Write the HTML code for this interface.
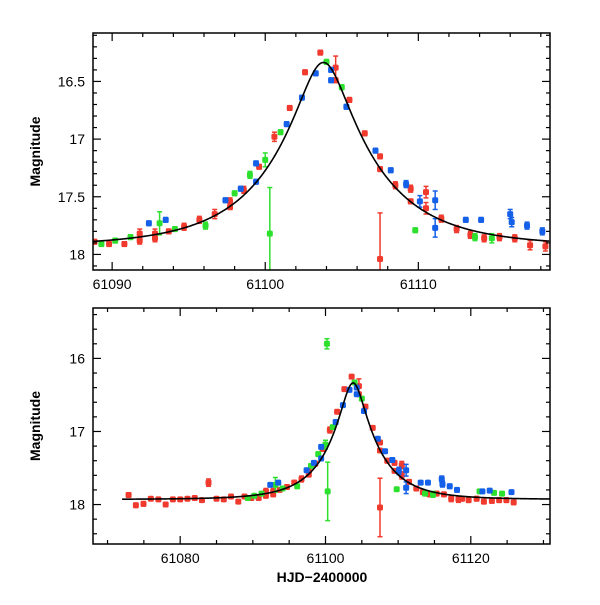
<!DOCTYPE html>
<html><head><meta charset="utf-8"><style>
html,body{margin:0;padding:0;background:#fff;}
svg text{font-family:"Liberation Sans",sans-serif;font-size:14px;fill:#000;}
</style></head><body>
<svg id="chart" width="600" height="600" viewBox="0 0 600 600" xmlns="http://www.w3.org/2000/svg"></svg>
<script>
// ---- data (HJD-2400000, magnitude, error) ----
const redDays=[61072.9,61073.9,61074.95,61075.96,61077,61078,61079,61080,61081,61082,61083,61083.9,61085,61086,61087,61088,61088.85,61089.8,61090.8,61091.8,61091.8,61092.8,61092.8,61093.7,61094.7,61095.7,61096.7,61097.7,61097.7,61098.6,61099.6,61100.6,61101.6,61102.6,61103.6,61104.6,61104.6,61105.5,61106.5,61107.5,61107.5,61107.5,61108.5,61109.5,61109.5,61110.5,61110.5,61111.5,61112.5,61113.4,61114.3,61115.3,61116.3,61117.3,61118.3,61118.8,61119.7,61120.8,61121.8,61122.9,61123.9,61124.9,61125.9];
const redMags=[17.87,18.01,17.99,17.92,17.93,18.0,17.93,17.93,17.92,17.91,17.94,17.70,17.92,17.93,17.89,17.96,17.89,17.91,17.91,17.82,17.88,17.82,17.86,17.80,17.76,17.70,17.65,17.54,17.59,17.44,17.24,16.98,16.73,16.42,16.25,16.38,16.49,16.66,16.95,17.15,17.26,18.04,17.40,17.54,17.43,17.46,17.60,17.69,17.78,17.83,17.86,17.85,17.86,17.92,17.93,17.92,17.94,17.92,17.96,17.95,17.94,17.94,17.97];
const redErrs=[0.03,0.03,0.03,0.02,0.02,0.02,0.02,0.02,0.02,0.02,0.02,0.05,0.02,0.02,0.02,0.02,0.02,0.02,0.02,0.04,0.03,0.04,0.03,0.02,0.03,0.03,0.04,0.03,0.02,0.03,0.02,0.04,0.02,0.02,0.02,0.10,0.02,0.02,0.02,0.02,0.02,0.40,0.03,0.02,0.03,0.05,0.05,0.03,0.03,0.03,0.03,0.03,0.03,0.04,0.04,0.03,0.03,0.03,0.03,0.03,0.03,0.03,0.03];
const blueDays=[61092.4,61093.5,61097.4,61098.4,61099.4,61099.4,61101.4,61102.4,61103.3,61104.3,61104.3,61105.3,61107.2,61108.2,61109.2,61110.1,61111.1,61111.1,61113.1,61114.1,61116.0,61116.1,61117.1,61118.1,61121.6,61122.6,61125.6];
const blueMags=[17.73,17.70,17.53,17.43,17.21,17.37,16.87,16.64,16.43,16.49,16.40,16.72,17.10,17.27,17.39,17.54,17.53,17.77,17.70,17.70,17.65,17.72,17.75,17.80,17.82,17.81,17.83];
const blueErrs=[0.02,0.02,0.02,0.02,0.02,0.02,0.02,0.02,0.02,0.02,0.02,0.02,0.02,0.02,0.03,0.05,0.08,0.08,0.02,0.02,0.04,0.04,0.03,0.03,0.02,0.02,0.02];
const greenDays=[61089.3,61090.2,61091.2,61093.1,61094.1,61096.1,61098.0,61099.0,61100.0,61100.2,61100.3,61101.0,61104.0,61105.0,61109.8,61113.7,61114.8,61121.2,61123.2,61124.3];
const greenMags=[17.91,17.88,17.85,17.73,17.78,17.75,17.47,17.31,17.18,15.80,17.82,16.94,16.33,16.55,17.79,17.85,17.86,17.82,17.84,17.85];
const greenErrs=[0.02,0.02,0.02,0.10,0.02,0.03,0.02,0.03,0.06,0.07,0.40,0.02,0.02,0.02,0.02,0.03,0.04,0.02,0.02,0.02];
// model parameters
const modelT0=61103.8, modelTE=6.6, modelU0=0.235, modelBase=17.93;

const svg=document.getElementById('chart');
const NS='http://www.w3.org/2000/svg';
function mk(tag,attrs,parent){const e=document.createElementNS(NS,tag);for(const k in attrs)e.setAttribute(k,attrs[k]);(parent||svg).appendChild(e);return e;}
function model(t){const x=(t-modelT0)/modelTE;const u=Math.sqrt(modelU0*modelU0+x*x);const A=(u*u+2)/(u*Math.sqrt(u*u+4));return modelBase-2.5*Math.log10(A);}

const panels=[
 {name:'top',x0:93,x1:550,y0:33,y1:270,d0:61088.75,d1:61118.6,m0:16.08,m1:18.135,
  xMajor:[61090,61100,61110],xMinorStep:2,yMajor:[16.5,17,17.5,18],yMinorStep:0.1,curve:[61088.75,61118.6]},
 {name:'bottom',x0:93,x1:550,y0:308,y1:544,d0:61068.0,d1:61130.9,m0:15.31,m1:18.54,
  xMajor:[61080,61100,61120],xMinorStep:5,yMajor:[16,17,18],yMinorStep:0.2,curve:[61072,61130.9]}
];
const series=[
 {key:'red',color:'#f03a2e',days:redDays,mags:redMags,errs:redErrs},
 {key:'green',color:'#2ee02e',days:greenDays,mags:greenMags,errs:greenErrs},
 {key:'blue',color:'#1560e8',days:blueDays,mags:blueMags,errs:blueErrs}
];

panels.forEach((p,pi)=>{
  const g=mk('g',{});
  
  
  const X=d=>p.x0+(d-p.d0)/(p.d1-p.d0)*(p.x1-p.x0);
  const Y=m=>p.y0+(m-p.m0)/(p.m1-p.m0)*(p.y1-p.y0);
  const cid='clip'+pi;
  const cp=mk('clipPath',{id:cid},g);mk('rect',{x:p.x0,y:p.y0,width:p.x1-p.x0,height:p.y1-p.y0},cp);
  const data=mk('g',{'clip-path':'url(#'+cid+')'},g);
  series.forEach(s=>{
    const sg=mk('g',{},data);
    
    
    s.days.forEach((d,i)=>{
      const cx=X(d),cy=Y(s.mags[i]),ea=Y(s.mags[i]-s.errs[i]),eb=Y(s.mags[i]+s.errs[i]);
      mk('line',{x1:cx,x2:cx,y1:ea,y2:eb,stroke:s.color,'stroke-width':1.5},sg);
      mk('line',{x1:cx-2.5,x2:cx+2.5,y1:ea,y2:ea,stroke:s.color,'stroke-width':1.5},sg);
      mk('line',{x1:cx-2.5,x2:cx+2.5,y1:eb,y2:eb,stroke:s.color,'stroke-width':1.5},sg);
      const c=mk('rect',{x:cx-3,y:cy-3,width:6,height:6,rx:1.5,fill:s.color},sg);
      
      
    });
  });
  let dstr='';
  for(let t=p.curve[0];t<=p.curve[1];t+=0.05){dstr+=(dstr?'L':'M')+X(t).toFixed(2)+' '+Y(model(t)).toFixed(2);}
  const cv=mk('path',{d:dstr,fill:'none',stroke:'#000','stroke-width':1.6},data);
  
  
  mk('rect',{x:p.x0,y:p.y0,width:p.x1-p.x0,height:p.y1-p.y0,fill:'none',stroke:'#000','stroke-width':1.5},g);
  const tk=mk('g',{stroke:'#000','stroke-width':1.2},g);
  for(let d=Math.ceil(p.d0/p.xMinorStep)*p.xMinorStep;d<=p.d1;d+=p.xMinorStep){
    const major=(Math.abs(d%10)<1e-6&&pi===0)||(Math.abs(d%20)<1e-6&&pi===1);
    const L=major?8:4;const x=X(d);
    mk('line',{x1:x,x2:x,y1:p.y1,y2:p.y1-L},tk);mk('line',{x1:x,x2:x,y1:p.y0,y2:p.y0+L},tk);
  }
  const ys=p.yMinorStep;
  for(let k=Math.ceil(p.m0/ys-1e-6);k*ys<=p.m1+1e-6;k++){
    const m=k*ys;const major=pi===0?Math.abs(m*2-Math.round(m*2))<1e-6:Math.abs(m-Math.round(m))<1e-6;
    const L=major?8:4;const y=Y(m);
    mk('line',{x1:p.x0,x2:p.x0+L,y1:y,y2:y},tk);mk('line',{x1:p.x1,x2:p.x1-L,y1:y,y2:y},tk);
  }
  p.xMajor.forEach(v=>{const t=mk('text',{x:X(v),y:p.y1+19,'text-anchor':'middle'},g);t.textContent=String(v);
    });
  p.yMajor.forEach(v=>{const t=mk('text',{x:p.x0-8,y:Y(v)+5,'text-anchor':'end'},g);t.textContent=String(v);
    });
  const yl=mk('text',{x:0,y:0,'text-anchor':'middle',transform:'translate(40,'+((p.y0+p.y1)/2)+') rotate(-90)','font-weight':'bold'},g);
  yl.textContent='Magnitude';
  
  
});
const xl=mk('text',{x:322,y:582,'text-anchor':'middle','font-weight':'bold'});
xl.textContent='HJD\u22122400000';


</script>
</body></html>
